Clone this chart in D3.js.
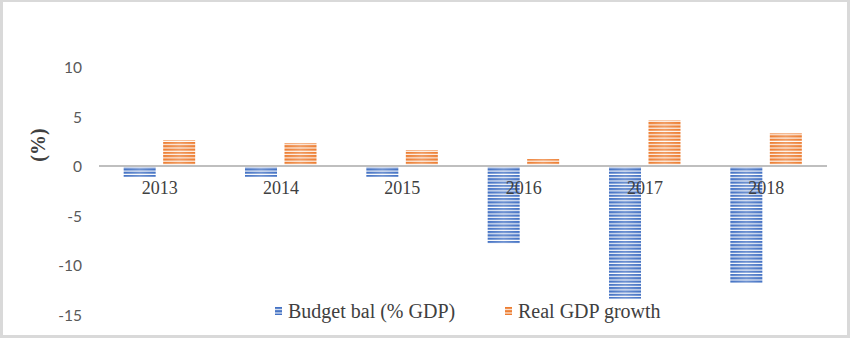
<!DOCTYPE html>
<html>
<head>
<meta charset="utf-8">
<script src="https://cdn.jsdelivr.net/npm/d3@7"></script>
<style>
  html, body { margin: 0; padding: 0; background: #fff; }
  svg { display: block; }
</style>
</head>
<body>
<svg id="chart" width="850" height="338"></svg>
<script>
// Fiscal balance and growth, 2013–2018
const years = ["2013", "2014", "2015", "2016", "2017", "2018"];
const budgetBal = [-1.1, -1.1, -1.1, -7.8, -13.4, -11.8];
const gdpGrowth = [2.6, 2.3, 1.6, 0.7, 4.6, 3.3];
const yTicks = [10, 5, 0, -5, -10, -15];
const seriesNames = ["Budget bal (% GDP)", "Real GDP growth"];
const seriesColors = ["#4472C4", "#ED7D31"];

const svg = d3.select("#chart");
const W = 850, H = 338;

// striped fills for the bars
const defs = svg.append("defs");
seriesColors.forEach((c, i) => {
  const p = defs.append("pattern")
    .attr("id", "stripe" + i)
    .attr("patternUnits", "userSpaceOnUse")
    .attr("width", 8).attr("height", 3.3);
  p.append("rect").attr("width", 8).attr("height", 3.3).attr("fill", "#fdfdfd");
  p.append("rect").attr("width", 8).attr("height", 2.2).attr("fill", c);
});
const sheen = defs.append("linearGradient").attr("id", "sheen")
  .attr("x1", "0%").attr("x2", "100%").attr("y1", "0%").attr("y2", "0%");
sheen.append("stop").attr("offset", "0%").attr("stop-color", "#fff").attr("stop-opacity", 0);
sheen.append("stop").attr("offset", "50%").attr("stop-color", "#fff").attr("stop-opacity", 0.22);
sheen.append("stop").attr("offset", "100%").attr("stop-color", "#fff").attr("stop-opacity", 0);

// outer frame
svg.append("rect")
  .attr("x", 1.5).attr("y", 0.5).attr("width", W - 3).attr("height", H - 2)
  .attr("fill", "none").attr("stroke", "#d9d9d9").attr("stroke-width", 3);

const x = d3.scaleBand().domain(years).range([99, 827]).padding(0);
const y = d3.scaleLinear().domain([-15, 10]).range([314.5, 67]);

const barW = 32;
const offsets = [-36, 3.5];

// y axis labels (no line, no tick marks)
const yAxis = d3.axisLeft(y).tickValues(yTicks).tickSize(0).tickPadding(0)
  .tickFormat(d => d < 0 ? "-" + Math.abs(d) : String(d));
const gy = svg.append("g").attr("transform", "translate(82,0)").call(yAxis);
gy.select(".domain").remove();
gy.selectAll("text")
  .attr("font-family", "Lato, 'Open Sans', sans-serif")
  .attr("font-size", 15.5)
  .attr("fill", "#595959")
  .attr("dy", "0.36em");

// y axis title
svg.append("text")
  .attr("transform", "translate(45,145) rotate(-90)")
  .attr("text-anchor", "middle")
  .attr("font-family", "'Liberation Serif', 'Times New Roman', serif")
  .attr("font-weight", "bold")
  .attr("font-size", 20)
  .attr("fill", "#404040")
  .text("(%)");

// bars
[budgetBal, gdpGrowth].forEach((vals, si) => {
  const g = svg.append("g");
  const rects = g.selectAll("rect.bar").data(years.map((yr, i) => ({ yr, v: vals[i] })))
    .join("rect").attr("class", "bar")
    .attr("x", d => x(d.yr) + x.bandwidth() / 2 + offsets[si])
    .attr("width", barW)
    .attr("y", d => y(Math.max(0, d.v)))
    .attr("height", d => Math.abs(y(d.v) - y(0)))
    .attr("fill", "url(#stripe" + si + ")");
  g.selectAll("rect.sheen").data(years.map((yr, i) => ({ yr, v: vals[i] })))
    .join("rect").attr("class", "sheen")
    .attr("x", d => x(d.yr) + x.bandwidth() / 2 + offsets[si])
    .attr("width", barW)
    .attr("y", d => y(Math.max(0, d.v)))
    .attr("height", d => Math.abs(y(d.v) - y(0)))
    .attr("fill", "url(#sheen)");
});

// zero line
svg.append("line")
  .attr("x1", x.range()[0]).attr("x2", x.range()[1])
  .attr("y1", y(0)).attr("y2", y(0))
  .attr("stroke", "#bfbfbf").attr("stroke-width", 2);

// category labels next to the zero line
const xAxis = d3.axisBottom(x).tickSize(0).tickPadding(0);
const gx = svg.append("g").attr("transform", `translate(0,${y(0)})`).call(xAxis);
gx.select(".domain").remove();
gx.selectAll("text")
  .attr("font-family", "'Liberation Serif', 'Times New Roman', serif")
  .attr("font-size", 18)
  .attr("fill", "#404040")
  .attr("dy", null)
  .attr("y", 27.5);

// legend
const legendX = [275, 505];
seriesNames.forEach((name, i) => {
  const g = svg.append("g").attr("transform", `translate(${legendX[i]},0)`);
  g.append("rect").attr("x", 0).attr("y", 306.5).attr("width", 7).attr("height", 8.5)
    .attr("fill", "url(#stripe" + i + ")");
  g.append("text")
    .attr("x", 13).attr("y", 318)
    .attr("font-family", "'Liberation Serif', 'Times New Roman', serif")
    .attr("font-size", 20)
    .attr("fill", "#404040")
    .text(name);
});
</script>
</body>
</html>
